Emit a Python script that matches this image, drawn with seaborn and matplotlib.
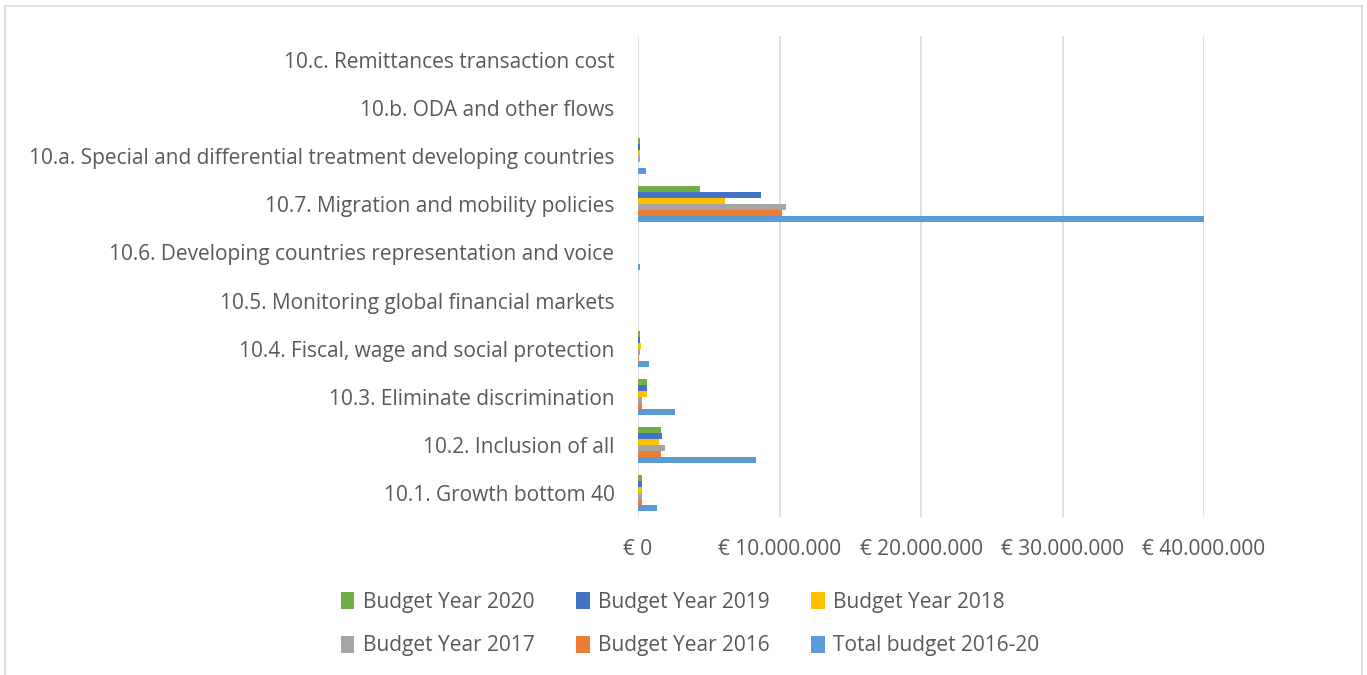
import matplotlib
matplotlib.use("Agg")
import matplotlib.pyplot as plt
import seaborn as sns
import pandas as pd
from matplotlib.patches import Rectangle, Patch

categories = [
    "10.c. Remittances transaction cost",
    "10.b. ODA and other flows",
    "10.a. Special and differential treatment developing countries",
    "10.7. Migration and mobility policies",
    "10.6. Developing countries representation and voice",
    "10.5. Monitoring global financial markets",
    "10.4. Fiscal, wage and social protection",
    "10.3. Eliminate discrimination",
    "10.2. Inclusion of all",
    "10.1. Growth bottom 40",
]
series = ["Budget Year 2020", "Budget Year 2019", "Budget Year 2018",
          "Budget Year 2017", "Budget Year 2016", "Total budget 2016-20"]
colors = ["#70AD47", "#4472C4", "#FFC000", "#A5A5A5", "#ED7D31", "#5B9BD5"]

budget_2020 = [0, 0, 140000, 4380000, 30000, 0, 170000, 640000, 1600000, 250000]
budget_2019 = [0, 0, 140000, 8700000, 30000, 0, 170000, 640000, 1670000, 250000]
budget_2018 = [0, 0, 140000, 6160000, 20000, 0, 190000, 660000, 1460000, 250000]
budget_2017 = [0, 0, 120000, 10460000, 20000, 0, 170000, 260000, 1930000, 250000]
budget_2016 = [0, 0, 30000, 10200000, 20000, 0, 40000, 260000, 1630000, 250000]
total_budget = [0, 0, 570000, 40000000, 170000, 0, 800000, 2600000, 8370000, 1320000]

values = [budget_2020, budget_2019, budget_2018, budget_2017, budget_2016, total_budget]
rows = []
for s, vals in zip(series, values):
    for c, v in zip(categories, vals):
        rows.append({"category": c, "series": s, "value": v})
df = pd.DataFrame(rows)

sns.set_style("white")
plt.rcParams['font.family'] = ['Open Sans', 'DejaVu Sans']
txt = "#595959"

fig = plt.figure(figsize=(13.67, 6.75), dpi=100)
ax = fig.add_axes([638/1367, 1-517/675, (1204-638)/1367, (517-36)/675])

sns.barplot(data=df, y="category", x="value", hue="series", order=categories,
            hue_order=series, palette=colors, orient="h", width=0.75, gap=0,
            ax=ax, legend=False, saturation=1, edgecolor="none")

ax.set_xlim(0, 40000000)
ax.set_ylim(len(categories) - 0.5, -0.5)
ticks = [0, 10000000, 20000000, 30000000, 40000000]
ax.set_xticks(ticks)
ax.set_xticklabels(["€ 0", "€ 10.000.000", "€ 20.000.000", "€ 30.000.000", "€ 40.000.000"])
ax.grid(axis="x", color="#D9D9D9", linewidth=1.2)
ax.set_axisbelow(True)
for sp in ax.spines.values():
    sp.set_visible(False)
ax.tick_params(axis="both", length=0, colors=txt, labelsize=15)
ax.tick_params(axis="x", pad=16)
ax.tick_params(axis="y", pad=17)
ax.set_xlabel("")
ax.set_ylabel("")

order = [0, 3, 1, 4, 2, 5]
handles = [Patch(facecolor=colors[i], edgecolor="none") for i in order]
labels = [series[i] for i in order]
leg = fig.legend(handles, labels, ncol=3, loc="center", bbox_to_anchor=(690/1367, 1-624/675),
                 frameon=False, fontsize=15, handlelength=0.65, handleheight=0.9,
                 handletextpad=0.4, columnspacing=2.0, labelspacing=1.1)
for t in leg.get_texts():
    t.set_color(txt)

fig.patches.append(Rectangle((5/1367, -0.05), 1357/1367, 1.05 - 6/675, transform=fig.transFigure,
                             fill=False, edgecolor="#D9D9D9", linewidth=1.2))

fig.savefig("out.png", dpi=100, facecolor="white")
